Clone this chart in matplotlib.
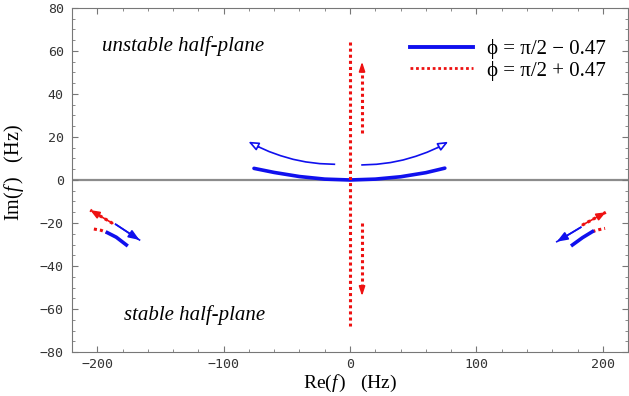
import matplotlib.pyplot as plt
from matplotlib.ticker import MultipleLocator
from matplotlib.lines import Line2D

plt.rcParams['mathtext.fontset'] = 'custom'
plt.rcParams['mathtext.rm'] = 'Liberation Serif'
plt.rcParams['mathtext.it'] = 'Liberation Serif:italic'

# Root loci near the origin (phi = pi/2 - 0.47), thick blue
center_re = [-76, -60, -40, -20, 0, 20, 40, 60, 75]
center_im = [5.4, 3.5, 1.6, 0.4, 0.0, 0.4, 1.5, 3.4, 5.5]

# thin blue direction arrows above the centre locus
arr_left_re = [-12.4, -24.0, -35.0, -45.0, -55.0, -64.0, -72.0, -80.4]
arr_left_im = [7.3, 7.6, 8.4, 9.6, 11.3, 13.2, 15.3, 17.8]
arr_right_re = [9.5, 21.0, 32.0, 42.0, 52.0, 61.0, 69.5, 77.7]
arr_right_im = [7.0, 7.3, 8.1, 9.3, 11.0, 12.9, 15.1, 17.8]

# red dotted locus on the imaginary axis (phi = pi/2 + 0.47)
red_axis_re = [0, 0]
red_axis_im = [64, -68]
red_up_re = [9.5, 9.5]
red_up_im = [21.7, 55.0]
red_down_re = [9.5, 9.5]
red_down_im = [-20.0, -54.0]

# far-left pair of loci
fl_red_re = [-202.7, -197.0, -192.0]
fl_red_im = [-22.8, -23.4, -24.5]
fl_blue_re = [-192.0, -185.0, -177.0]
fl_blue_im = [-24.5, -26.6, -30.2]
fl_red_arrow_re = [-187.8, -205.6]
fl_red_arrow_im = [-20.2, -14.0]
fl_blue_arrow_re = [-185.5, -166.6]
fl_blue_arrow_im = [-20.6, -27.9]

# far-right pair of loci
fr_blue_re = [176.0, 184.0, 191.8]
fr_blue_im = [-30.2, -26.8, -24.0]
fr_red_re = [191.8, 197.0, 201.8]
fr_red_im = [-24.0, -23.1, -22.5]
fr_red_arrow_re = [183.7, 202.4]
fr_red_arrow_im = [-21.0, -15.0]
fr_blue_arrow_re = [182.6, 163.6]
fr_blue_arrow_im = [-22.0, -28.7]

blue = '#1010ee'
red = '#ee1111'
serif = 'Liberation Serif'
dots = (0, (1, 1))


def head(ax, xs, ys, color, fc=None, hl=0.5, hw=0.22, lw=1.2):
    # draw only the arrow head from the last segment
    ax.annotate('', xy=(xs[-1], ys[-1]), xytext=(xs[-2], ys[-2]),
                arrowprops=dict(arrowstyle='-|>,head_length=%g,head_width=%g' % (hl, hw),
                                color=color, fc=fc if fc else color, lw=lw,
                                shrinkA=0, shrinkB=0))


fig = plt.figure(figsize=(6.29, 3.96), dpi=100)
ax = fig.add_axes([0.1145, 0.111, 0.884, 0.869])

ax.axhline(0, color='#8c8c8c', lw=1.6, zorder=1)

# centre
ax.plot(center_re, center_im, color=blue, lw=2.6, solid_capstyle='round')
ax.plot(arr_left_re[:-1], arr_left_im[:-1], color=blue, lw=1.2)
ax.plot(arr_right_re[:-1], arr_right_im[:-1], color=blue, lw=1.2)
head(ax, arr_left_re[-2:], arr_left_im[-2:], blue, fc='white', hl=0.6, hw=0.25)
head(ax, arr_right_re[-2:], arr_right_im[-2:], blue, fc='white', hl=0.6, hw=0.25)

ax.plot(red_axis_re, red_axis_im, color=red, lw=2.2, ls=dots)
ax.plot(red_up_re, [red_up_im[0], red_up_im[1] - 3], color=red, lw=2.2, ls=dots)
ax.plot(red_down_re, [red_down_im[0], red_down_im[1] + 3], color=red, lw=2.2, ls=dots)
head(ax, red_up_re, [red_up_im[1] - 3, red_up_im[1]], red, hl=0.55, hw=0.18)
head(ax, red_down_re, [red_down_im[1] + 3, red_down_im[1]], red, hl=0.55, hw=0.18)

# far left
ax.plot(fl_red_re, fl_red_im, color=red, lw=2.2, ls=dots)
ax.plot(fl_blue_re, fl_blue_im, color=blue, lw=2.6)
ax.plot(fl_red_arrow_re, fl_red_arrow_im, color=red, lw=2.2, ls=dots)
head(ax, fl_red_arrow_re, fl_red_arrow_im, red, hl=0.55, hw=0.22)
ax.plot(fl_blue_arrow_re, fl_blue_arrow_im, color=blue, lw=1.2)
head(ax, fl_blue_arrow_re, fl_blue_arrow_im, blue, hl=0.65, hw=0.25)

# far right
ax.plot(fr_red_re, fr_red_im, color=red, lw=2.2, ls=dots)
ax.plot(fr_blue_re, fr_blue_im, color=blue, lw=2.6)
ax.plot(fr_red_arrow_re, fr_red_arrow_im, color=red, lw=2.2, ls=dots)
head(ax, fr_red_arrow_re, fr_red_arrow_im, red, hl=0.55, hw=0.22)
ax.plot(fr_blue_arrow_re, fr_blue_arrow_im, color=blue, lw=1.2)
head(ax, fr_blue_arrow_re, fr_blue_arrow_im, blue, hl=0.65, hw=0.25)

ax.text(-196, 62.3, 'unstable half-plane', family=serif, style='italic',
        fontsize=15, va='center', ha='left')
ax.text(-179, -62.8, 'stable half-plane', family=serif, style='italic',
        fontsize=15, va='center', ha='left')

handles = [Line2D([], [], color=blue, lw=2.8),
           Line2D([], [], color=red, lw=2.0, ls=dots)]
ax.legend(handles, ['\u03d5 = \u03c0/2 \u2212 0.47', '\u03d5 = \u03c0/2 + 0.47'],
          loc='upper left', bbox_to_anchor=(0.608, 0.91), frameon=False,
          borderaxespad=0, borderpad=0,
          prop={'family': serif, 'size': 15}, handlelength=3.0,
          handletextpad=0.7, labelspacing=0.08)

ax.set_xlim(-220, 220)
ax.set_ylim(-80, 80)
ax.xaxis.set_major_locator(MultipleLocator(100))
ax.xaxis.set_minor_locator(MultipleLocator(20))
ax.yaxis.set_major_locator(MultipleLocator(20))
ax.yaxis.set_minor_locator(MultipleLocator(5))
ax.tick_params(which='both', direction='in', top=True, right=True, color='#777777')
ax.tick_params(which='major', length=4, labelsize=9.5, labelcolor='#333333', pad=6)
ax.tick_params(axis='x', which='major', pad=4)
ax.tick_params(which='minor', length=2.5)
for lab in ax.get_xticklabels() + ax.get_yticklabels():
    lab.set_family('DejaVu Sans Mono')
for s in ax.spines.values():
    s.set_color('#777777')

ax.set_xlabel('Re($\\mathit{f}\\,$)   (Hz)', fontsize=14, family=serif)
ax.set_ylabel('Im($\\mathit{f}\\,$)   (Hz)', fontsize=14.5, family=serif)
ax.xaxis.set_label_coords(0.5, -0.06)
ax.yaxis.set_label_coords(-0.083, 0.52)

fig.savefig('out.png', dpi=100)
